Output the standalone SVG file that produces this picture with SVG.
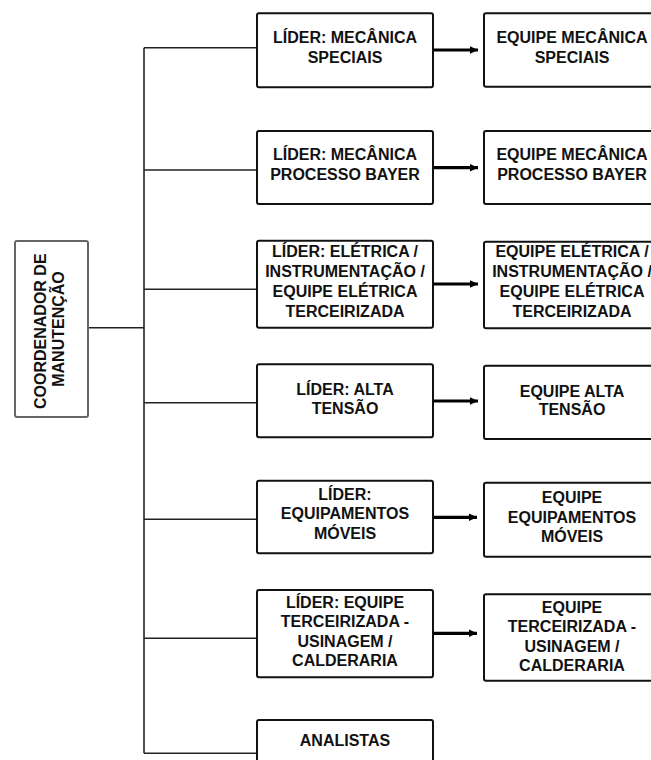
<svg xmlns="http://www.w3.org/2000/svg" width="651" height="760" viewBox="0 0 651 760">
  <defs>
    <marker id="ah" markerUnits="userSpaceOnUse" markerWidth="9" markerHeight="9" refX="8" refY="4.5" orient="auto">
      <path d="M0,0.8 L8,4.5 L0,8.2 Z" fill="#000"/>
    </marker>
  </defs>
  <style>
    .box { fill: #fff; stroke: #111; stroke-width: 2; }
    .coord { fill: #fff; stroke: #666; stroke-width: 2; }
    .t { font-family: "Liberation Sans", Arial, sans-serif; font-weight: bold; font-size: 16px; fill: #111; text-anchor: middle; }
    .br { stroke: #222; stroke-width: 1.6; fill: none; }
    .ar { stroke: #000; stroke-width: 3.2; fill: none; marker-end: url(#ah); }
  </style>
  <rect width="651" height="760" fill="#fff"/>

  <g id="connectors">
    <line class="br" x1="144" y1="47.7" x2="144" y2="753.3"/>
    <line class="br" x1="88" y1="327.7" x2="144" y2="327.7"/>
    <line class="br" x1="144" y1="47.7" x2="257" y2="47.7"/>
    <line class="br" x1="144" y1="170" x2="257" y2="170"/>
    <line class="br" x1="144" y1="289.3" x2="257" y2="289.3"/>
    <line class="br" x1="144" y1="402.7" x2="257" y2="402.7"/>
    <line class="br" x1="144" y1="519.3" x2="257" y2="519.3"/>
    <line class="br" x1="144" y1="638.3" x2="257" y2="638.3"/>
    <line class="br" x1="144" y1="753.3" x2="257" y2="753.3"/>
    <line class="ar" x1="433" y1="50" x2="478" y2="50"/>
    <line class="ar" x1="433" y1="167.7" x2="478" y2="167.7"/>
    <line class="ar" x1="433" y1="284" x2="478" y2="284"/>
    <line class="ar" x1="433" y1="401" x2="478" y2="401"/>
    <line class="ar" x1="433" y1="517.3" x2="477" y2="517.3"/>
    <line class="ar" x1="433" y1="633.3" x2="477" y2="633.3"/>
  </g>

  <g id="coordenador">
    <rect class="coord" x="15" y="241" width="73" height="176" rx="2"/>
    <text class="t" transform="translate(45.7,329) rotate(-90)" fill="#222">
      <tspan x="0" y="0">COORDENADOR DE</tspan>
      <tspan x="0" y="18.6">MANUTENÇÃO</tspan>
    </text>
  </g>

  <g id="lider-mecanica-speciais">
    <rect class="box" x="257" y="13.3" width="176" height="74" rx="2"/>
    <text class="t"><tspan x="345" y="43.3">LÍDER: MECÂNICA</tspan><tspan x="345" y="62.7">SPECIAIS</tspan></text>
  </g>
  <g id="equipe-mecanica-speciais">
    <rect class="box" x="484" y="13.3" width="176" height="73.4" rx="2"/>
    <text class="t"><tspan x="572" y="43">EQUIPE MECÂNICA</tspan><tspan x="572" y="63">SPECIAIS</tspan></text>
  </g>

  <g id="lider-mecanica-bayer">
    <rect class="box" x="257" y="131" width="176" height="73" rx="2"/>
    <text class="t"><tspan x="345" y="160">LÍDER: MECÂNICA</tspan><tspan x="345" y="180">PROCESSO BAYER</tspan></text>
  </g>
  <g id="equipe-mecanica-bayer">
    <rect class="box" x="484" y="131" width="176" height="73" rx="2"/>
    <text class="t"><tspan x="572" y="160">EQUIPE MECÂNICA</tspan><tspan x="572" y="180">PROCESSO BAYER</tspan></text>
  </g>

  <g id="lider-eletrica">
    <rect class="box" x="257" y="240.7" width="176" height="87" rx="2"/>
    <text class="t"><tspan x="345" y="257.3">LÍDER: ELÉTRICA /</tspan><tspan x="345" y="276.7">INSTRUMENTAÇÃO /</tspan><tspan x="345" y="296.7">EQUIPE ELÉTRICA</tspan><tspan x="345" y="316.7">TERCEIRIZADA</tspan></text>
  </g>
  <g id="equipe-eletrica">
    <rect class="box" x="484" y="241.7" width="176" height="86.6" rx="2"/>
    <text class="t"><tspan x="572" y="257.3">EQUIPE ELÉTRICA /</tspan><tspan x="572" y="276.7">INSTRUMENTAÇÃO /</tspan><tspan x="572" y="296.7">EQUIPE ELÉTRICA</tspan><tspan x="572" y="316.7">TERCEIRIZADA</tspan></text>
  </g>

  <g id="lider-alta-tensao">
    <rect class="box" x="257" y="364.3" width="176" height="73" rx="2"/>
    <text class="t"><tspan x="345" y="395">LÍDER: ALTA</tspan><tspan x="345" y="414">TENSÃO</tspan></text>
  </g>
  <g id="equipe-alta-tensao">
    <rect class="box" x="484" y="365.7" width="176" height="73.3" rx="2"/>
    <text class="t"><tspan x="572" y="396.7">EQUIPE ALTA</tspan><tspan x="572" y="415">TENSÃO</tspan></text>
  </g>

  <g id="lider-equipamentos-moveis">
    <rect class="box" x="257" y="480.7" width="176" height="72.6" rx="2"/>
    <text class="t"><tspan x="345" y="500">LÍDER:</tspan><tspan x="345" y="519.3">EQUIPAMENTOS</tspan><tspan x="345" y="539">MÓVEIS</tspan></text>
  </g>
  <g id="equipe-equipamentos-moveis">
    <rect class="box" x="484" y="482.7" width="176" height="74" rx="2"/>
    <text class="t"><tspan x="572" y="503.3">EQUIPE</tspan><tspan x="572" y="522.7">EQUIPAMENTOS</tspan><tspan x="572" y="542">MÓVEIS</tspan></text>
  </g>

  <g id="lider-terceirizada">
    <rect class="box" x="257" y="590" width="176" height="87.3" rx="2"/>
    <text class="t"><tspan x="345" y="608.3">LÍDER: EQUIPE</tspan><tspan x="345" y="627.3">TERCEIRIZADA -</tspan><tspan x="345" y="646.7">USINAGEM /</tspan><tspan x="345" y="665.7">CALDERARIA</tspan></text>
  </g>
  <g id="equipe-terceirizada">
    <rect class="box" x="484" y="594.3" width="176" height="86.4" rx="2"/>
    <text class="t"><tspan x="572" y="613.3">EQUIPE</tspan><tspan x="572" y="632.3">TERCEIRIZADA -</tspan><tspan x="572" y="651.7">USINAGEM /</tspan><tspan x="572" y="670.7">CALDERARIA</tspan></text>
  </g>

  <g id="analistas">
    <rect class="box" x="257" y="720" width="176" height="74" rx="2"/>
    <text class="t"><tspan x="345" y="746">ANALISTAS</tspan></text>
  </g>
</svg>
